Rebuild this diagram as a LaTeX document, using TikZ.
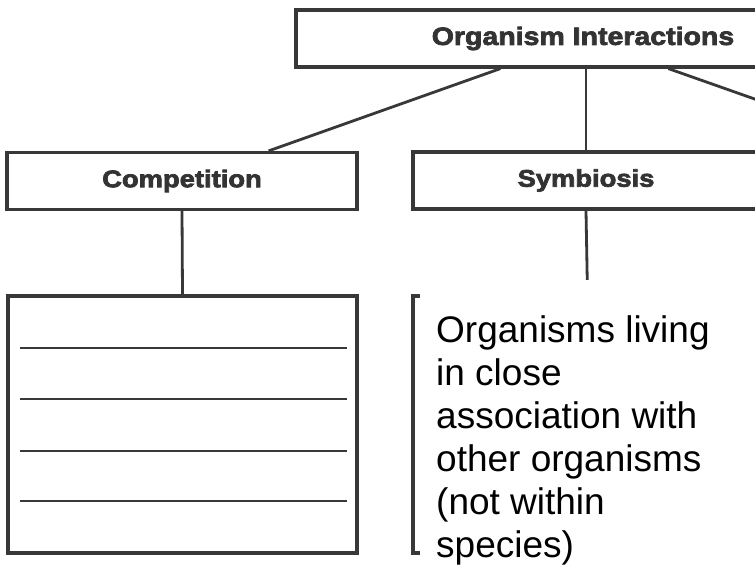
\documentclass[tikz,border=0pt]{standalone}
\usepackage{fontspec}
\setmainfont{Liberation Sans}
\newfontfamily\headfont{Liberation Sans}[FakeStretch=1.14,FakeBold=3]
\definecolor{ink}{HTML}{333333}
\definecolor{rule}{HTML}{383838}
\begin{document}
\begin{tikzpicture}[x=1pt,y=-1pt,
  hbox/.style={draw=rule,line width=3.2pt,fill=white,inner sep=0pt,
    minimum height=57pt,text=ink,
    font=\headfont\bfseries\fontsize{24}{28}\selectfont},
  link/.style={draw=rule,line width=2.8pt},
  slot/.style={draw=rule,line width=2.8pt},
  listbox/.style={draw=rule,line width=3.2pt}]
\useasboundingbox (0,0) rectangle (755,571);
\clip (0,0) rectangle (755,571);
\fill[white] (0,0) rectangle (755,571);

% heading and the two category boxes
\node[hbox,minimum width=574pt,font=\headfont\bfseries\fontsize{25}{30}\selectfont]
  (top) at (583,38.5) {Organism Interactions};
\node[hbox,minimum width=350pt] (comp) at (182,181) {Competition};
\node[hbox,minimum width=346pt] (symb) at (586,180.5) {Symbiosis};

% answer boxes under each category
\node[listbox,minimum width=349pt,minimum height=257pt,inner sep=0pt]
  (complow) at (182.5,424.5) {};
\node[listbox,minimum width=349pt,minimum height=257pt,inner sep=0pt]
  (symlow) at (587.5,424.5) {};

% writing lines inside the competition box
\foreach \yy in {348,399,451,501}
  \draw[slot] ([xshift=14pt]complow.west |- 0,\yy) -- ([xshift=-12pt]complow.east |- 0,\yy);

% connectors
\coordinate (offright) at (905,152);
\draw[link] ([xshift=206pt]top.south west) -- ([xshift=-90pt]comp.north east);
\draw[link] (symb.north |- top.south) -- (symb.north);
\draw[link] ([xshift=374pt]top.south west) -- (offright);
\draw[link] (comp.south) -- (complow.north);
\draw[link] (symb.south) -- (symlow.north);

% typed answer laid over the symbiosis box
\node[fill=white,inner sep=0pt,minimum width=340pt,minimum height=300pt,anchor=north west]
  (answer) at (420,280) {};
\node[anchor=base west,align=left,inner sep=0pt,text=black,
  font=\fontsize{37}{43}\selectfont] (answertext) at (436,557)
  {Organisms living\\in close\\association with\\other organisms\\(not within\\species)};
\end{tikzpicture}
\end{document}
